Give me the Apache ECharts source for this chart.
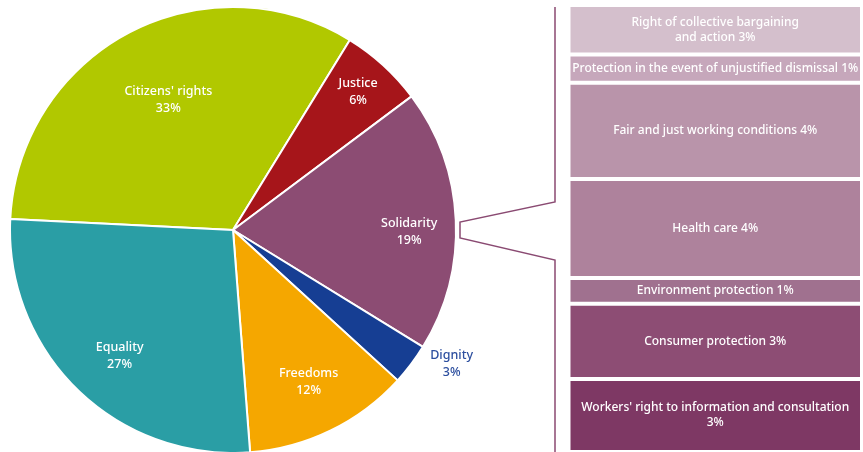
<!DOCTYPE html>
<html>
<head>
<meta charset="utf-8">
<script src="https://cdn.jsdelivr.net/npm/echarts@6/dist/echarts.min.js"></script>
<style>
  html, body { margin: 0; padding: 0; background: #fff; }
  #chart { width: 863px; height: 452px; }
</style>
</head>
<body>
<div id="chart"></div>
<script>
// main pie
var pieNames = ["Citizens' rights", 'Justice', 'Solidarity', 'Dignity', 'Freedoms', 'Equality'];
var pieValues = [33, 6, 19, 3, 12, 27];
var pieColors = ['#b1c800', '#a6151a', '#8c4c73', '#163e93', '#f5a700', '#2a9ea5'];

// breakdown of Solidarity (bar heights, labels as printed)
var subNames = [
  'Right of collective bargaining\nand action',
  'Protection in the event of unjustified dismissal',
  'Fair and just working conditions',
  'Health care',
  'Environment protection',
  'Consumer protection',
  "Workers' right to information and consultation\n"
];
var subValues = [2.1, 1.2, 4.1, 4.2, 1.1, 3.2, 3.1];
var subLabels = ['3%', '1%', '4%', '4%', '1%', '3%', '3%'];
var subColors = ['#d4bfcc', '#c6a7bb', '#b994aa', '#ae829c', '#a0718f', '#8d4d74', '#7e3864'];

var CX = 233, CY = 230, R = 223;
// where each pie label sits: [fraction of radius, angle in degrees]
var labelSpot = {
  "Citizens' rights": [0.65, 116.5],
  'Justice': [0.835, 47.8],
  'Solidarity': [0.79, -0.5],
  'Dignity': [1.15, -31.5],
  'Freedoms': [0.76, -63.5],
  'Equality': [0.76, -132]
};

var subTotal = subValues.reduce(function (a, b) { return a + b; }, 0);

var myChart = echarts.init(document.getElementById('chart'));

var series = [{
  type: 'pie',
  center: [CX, CY],
  radius: R,
  startAngle: 177.2,
  clockwise: true,
  animation: false,
  silent: true,
  itemStyle: { borderColor: '#fff', borderWidth: 2 },
  label: {
    show: true,
    position: 'inside',
    color: '#fff',
    fontFamily: 'Noto Sans',
    fontWeight: 500,
    fontSize: 12.5,
    lineHeight: 17,
    formatter: function (p) { return p.name + '\n' + Math.round(p.percent) + '%'; }
  },
  labelLine: { show: false },
  labelLayout: function (p) {
    var s = labelSpot[pieNames[p.dataIndex]];
    var a = s[1] * Math.PI / 180;
    return { x: CX + s[0] * R * Math.cos(a), y: CY - s[0] * R * Math.sin(a) };
  },
  data: pieNames.map(function (n, i) {
    var item = { name: n, value: pieValues[i], itemStyle: { color: pieColors[i] } };
    if (n === 'Dignity') item.label = { color: '#2d4f9f' };
    return item;
  })
}];

subNames.forEach(function (n, i) {
  series.push({
    type: 'bar',
    name: n,
    stack: 'sol',
    barWidth: '100%',
    animation: false,
    silent: true,
    itemStyle: { color: subColors[i], borderColor: '#fff', borderWidth: 2 },
    label: {
      show: true,
      position: 'inside',
      color: '#fff',
      fontFamily: 'Noto Sans',
      fontWeight: 500,
      fontSize: 12,
      lineHeight: 15,
      formatter: function () {
        return n.slice(-1) === '\n' ? n + subLabels[i] : n + ' ' + subLabels[i];
      }
    },
    data: [subValues[i]]
  });
});

myChart.setOption({
  grid: { left: 568.5, right: 1, top: 5, height: 449 },
  xAxis: { type: 'category', data: ['Solidarity'], show: false },
  yAxis: { type: 'value', min: 0, max: subTotal, inverse: true, show: false },
  graphic: [{
    type: 'polyline',
    silent: true,
    shape: { points: [[555, 7], [555, 202], [460, 222], [460, 238], [555, 260], [555, 460]] },
    style: { stroke: '#8a4a72', lineWidth: 1.5, fill: null }
  }],
  series: series
});
</script>
</body>
</html>
